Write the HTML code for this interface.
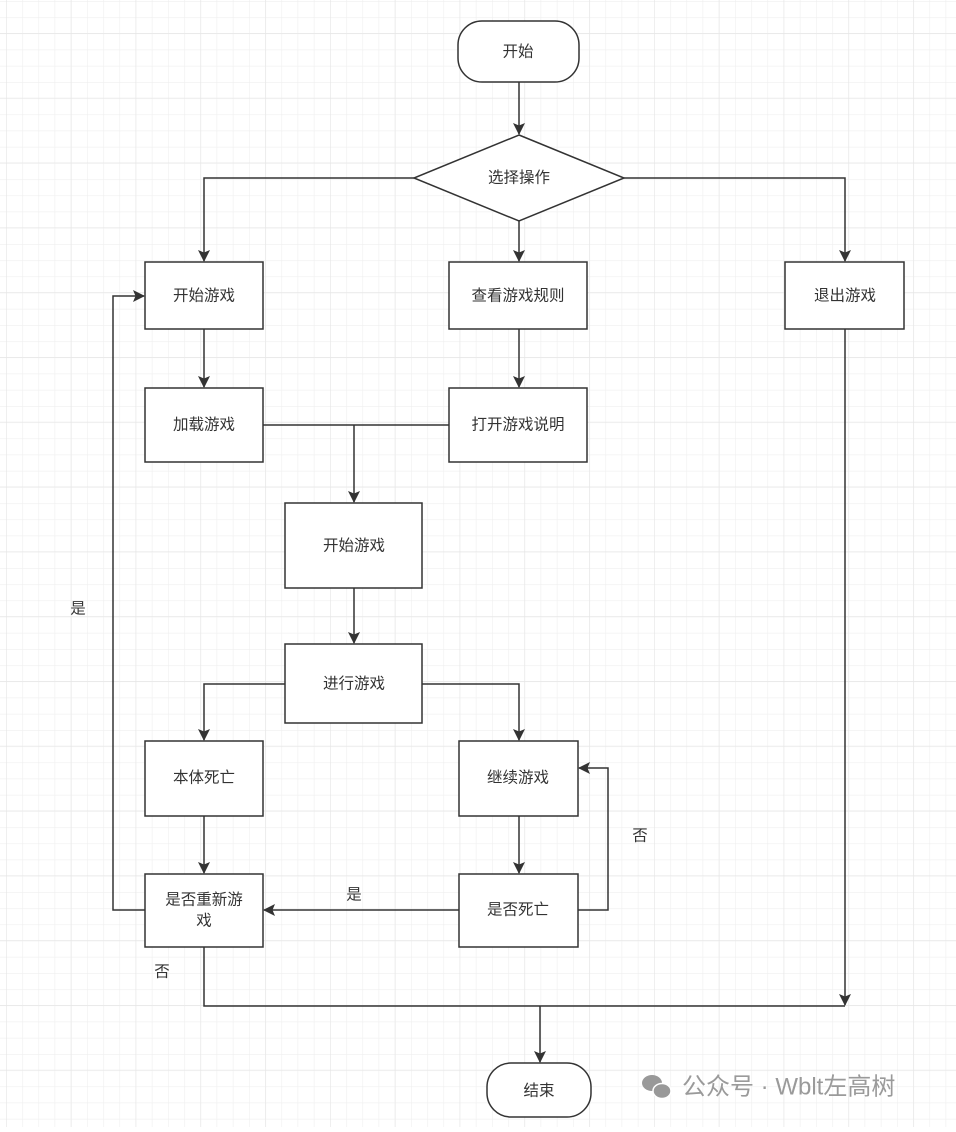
<!DOCTYPE html>
<html><head><meta charset="utf-8"><style>
body{margin:0;background:#fff}
svg text{font-family:"Liberation Sans","Noto Sans CJK SC",sans-serif;font-size:15.5px;fill:#333;text-anchor:middle;dominant-baseline:central}
</style></head><body>
<svg width="956" height="1127" xmlns="http://www.w3.org/2000/svg">
<defs>
<pattern id="g" x="6" y="1" width="16.2" height="16.2" patternUnits="userSpaceOnUse">
<path d="M0 0H16.2M0 0V16.2" stroke="#efefef" stroke-width="1.2" fill="none"/>
</pattern>
<pattern id="G" x="6" y="33" width="64.8" height="64.8" patternUnits="userSpaceOnUse">
<path d="M0 0H64.8M0 0V64.8" stroke="#e6e6e6" stroke-width="1.2" fill="none"/>
</pattern>
<marker id="a" markerWidth="12" markerHeight="12" refX="11" refY="6" orient="auto" markerUnits="userSpaceOnUse">
<path d="M0 0L12 6L0 12L2.5 6Z" fill="#333"/>
</marker>
</defs>
<rect width="956" height="1127" fill="url(#g)"/>
<rect width="956" height="1127" fill="url(#G)"/>
<g stroke="#333" stroke-width="1.5" fill="none">
<path d="M519 82V134" marker-end="url(#a)"/>
<path d="M414 178H204V261" marker-end="url(#a)"/>
<path d="M519 221V261" marker-end="url(#a)"/>
<path d="M624 178H845V261" marker-end="url(#a)"/>
<path d="M204 329V387" marker-end="url(#a)"/>
<path d="M519 329V387" marker-end="url(#a)"/>
<path d="M263 425H449"/>
<path d="M354 425V502" marker-end="url(#a)"/>
<path d="M354 588V643" marker-end="url(#a)"/>
<path d="M285 684H204V740" marker-end="url(#a)"/>
<path d="M422 684H519V740" marker-end="url(#a)"/>
<path d="M204 816V873" marker-end="url(#a)"/>
<path d="M519 816V873" marker-end="url(#a)"/>
<path d="M459 910H264" marker-end="url(#a)"/>
<path d="M578 910H608V768H579" marker-end="url(#a)"/>
<path d="M145 910H113V296H144" marker-end="url(#a)"/>
<path d="M845 329V1005" marker-end="url(#a)"/>
<path d="M204 947V1006H845"/>
<path d="M540 1006V1062" marker-end="url(#a)"/>
</g>
<g stroke="#333" stroke-width="1.5" fill="#fff">
<rect x="458" y="21" width="121" height="61" rx="24"/>
<path d="M519 135L624 178L519 221L414 178Z"/>
<rect x="145" y="262" width="118" height="67"/>
<rect x="449" y="262" width="138" height="67"/>
<rect x="785" y="262" width="119" height="67"/>
<rect x="145" y="388" width="118" height="74"/>
<rect x="449" y="388" width="138" height="74"/>
<rect x="285" y="503" width="137" height="85"/>
<rect x="285" y="644" width="137" height="79"/>
<rect x="145" y="741" width="118" height="75"/>
<rect x="459" y="741" width="119" height="75"/>
<rect x="145" y="874" width="118" height="73"/>
<rect x="459" y="874" width="119" height="73"/>
<rect x="487" y="1063" width="104" height="54" rx="24"/>
</g>
<text x="518" y="52">开始</text>
<text x="519" y="178">选择操作</text>
<text x="204" y="296">开始游戏</text>
<text x="518" y="296">查看游戏规则</text>
<text x="845" y="296">退出游戏</text>
<text x="204" y="425">加载游戏</text>
<text x="518" y="425">打开游戏说明</text>
<text x="354" y="546">开始游戏</text>
<text x="354" y="684">进行游戏</text>
<text x="204" y="778">本体死亡</text>
<text x="518" y="778">继续游戏</text>
<text x="204" y="900">是否重新游</text>
<text x="204" y="921">戏</text>
<text x="518" y="910">是否死亡</text>
<text x="539" y="1091">结束</text>
<text x="78" y="609">是</text>
<text x="354" y="895">是</text>
<text x="640" y="836">否</text>
<text x="162" y="972">否</text>
<g fill="#999">
<ellipse cx="652" cy="1083" rx="10" ry="8"/>
<ellipse cx="662" cy="1091" rx="9" ry="7.5" stroke="#fff" stroke-width="1.5"/>
</g>
<text x="682" y="1087" style="font-size:24px;fill:#9a9a9a;text-anchor:start">公众号 · Wblt左高树</text>
</svg>
</body></html>
